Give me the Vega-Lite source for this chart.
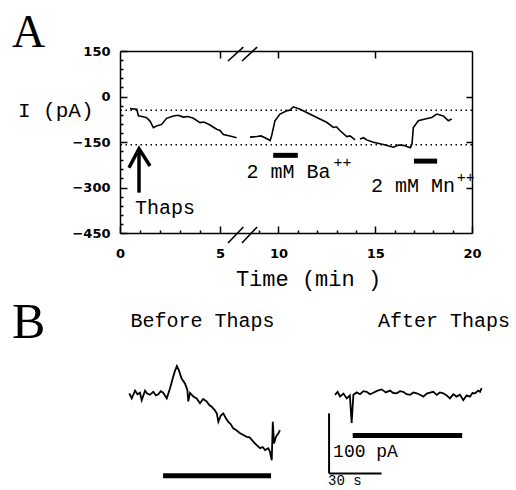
{
  "$schema": "https://vega.github.io/schema/vega-lite/v6.json",
  "background": "white",
  "padding": {"left": 12, "top": 10, "right": 0, "bottom": 0},
  "config": {
    "view": {"stroke": null},
    "axis": {"grid": false, "domainColor": "black", "tickColor": "black", "labelColor": "black", "titleColor": "black", "domainWidth": 1.5, "tickWidth": 1.5, "labelFont": "DejaVu Sans", "labelFontSize": 13, "labelFontWeight": "bold", "titleFont": "Liberation Mono", "titleFontWeight": "normal", "labelOverlap": false, "labelFlush": false, "labelBound": false}
  },
  "datasets": {
    "traceA": [
      {"seg": 1, "t": 0.5, "I": -40}, {"seg": 1, "t": 0.84, "I": -42}, {"seg": 1, "t": 0.92, "I": -64}, {"seg": 1, "t": 1.1, "I": -66}, {"seg": 1, "t": 1.33, "I": -70}, {"seg": 1, "t": 1.5, "I": -81}, {"seg": 1, "t": 1.67, "I": -103}, {"seg": 1, "t": 1.83, "I": -97}, {"seg": 1, "t": 2.08, "I": -92}, {"seg": 1, "t": 2.33, "I": -72}, {"seg": 1, "t": 2.67, "I": -64}, {"seg": 1, "t": 2.9, "I": -62}, {"seg": 1, "t": 3.17, "I": -68}, {"seg": 1, "t": 3.4, "I": -66}, {"seg": 1, "t": 3.67, "I": -72}, {"seg": 1, "t": 4.0, "I": -86}, {"seg": 1, "t": 4.2, "I": -84}, {"seg": 1, "t": 4.5, "I": -94}, {"seg": 1, "t": 4.83, "I": -108}, {"seg": 1, "t": 5.0, "I": -112}, {"seg": 1, "t": 5.17, "I": -125}, {"seg": 1, "t": 5.5, "I": -130}, {"seg": 1, "t": 5.83, "I": -136},
      {"seg": 2, "t": 8.53, "I": -134}, {"seg": 2, "t": 8.88, "I": -132}, {"seg": 2, "t": 9.1, "I": -130}, {"seg": 2, "t": 9.31, "I": -136}, {"seg": 2, "t": 9.57, "I": -145}, {"seg": 2, "t": 9.65, "I": -129}, {"seg": 2, "t": 9.82, "I": -80}, {"seg": 2, "t": 10.08, "I": -58}, {"seg": 2, "t": 10.43, "I": -47}, {"seg": 2, "t": 10.6, "I": -45}, {"seg": 2, "t": 10.77, "I": -34}, {"seg": 2, "t": 11.12, "I": -42}, {"seg": 2, "t": 11.46, "I": -53}, {"seg": 2, "t": 11.98, "I": -69}, {"seg": 2, "t": 12.49, "I": -85}, {"seg": 2, "t": 12.84, "I": -102}, {"seg": 2, "t": 13.0, "I": -100}, {"seg": 2, "t": 13.19, "I": -113}, {"seg": 2, "t": 13.53, "I": -132}, {"seg": 2, "t": 13.7, "I": -130}, {"seg": 2, "t": 13.96, "I": -143},
      {"seg": 3, "t": 14.21, "I": -140}, {"seg": 3, "t": 14.4, "I": -136}, {"seg": 3, "t": 14.56, "I": -143}, {"seg": 3, "t": 14.9, "I": -151}, {"seg": 3, "t": 15.42, "I": -158}, {"seg": 3, "t": 15.94, "I": -167}, {"seg": 3, "t": 16.2, "I": -160}, {"seg": 3, "t": 16.45, "I": -161}, {"seg": 3, "t": 16.82, "I": -169}, {"seg": 3, "t": 16.9, "I": -156}, {"seg": 3, "t": 16.97, "I": -102}, {"seg": 3, "t": 17.23, "I": -80}, {"seg": 3, "t": 17.58, "I": -74}, {"seg": 3, "t": 17.92, "I": -69}, {"seg": 3, "t": 18.18, "I": -58}, {"seg": 3, "t": 18.52, "I": -64}, {"seg": 3, "t": 18.78, "I": -80}, {"seg": 3, "t": 18.95, "I": -74}
    ],
    "hlines": [{"I": -45}, {"I": -159}],
    "barsA": [{"t": 9.73, "t2": 11.0, "I": -194}, {"t": 17.0, "t2": 18.2, "I": -213}],
    "arrow": [
      {"part": "shaft", "k": 1, "t": 0.95, "I": -176}, {"part": "shaft", "k": 2, "t": 0.95, "I": -317},
      {"part": "head", "k": 1, "t": 0.45, "I": -235}, {"part": "head", "k": 2, "t": 0.95, "I": -172}, {"part": "head", "k": 3, "t": 1.5, "I": -229}
    ],
    "breaks": [
      {"t": 5.4, "I": -483, "t2": 6.88, "I2": -430}, {"t": 6.53, "I": -483, "t2": 8.9, "I2": -430},
      {"t": 5.4, "I": 117, "t2": 6.88, "I2": 163}, {"t": 6.53, "I": 117, "t2": 8.9, "I2": 163}
    ],
    "letterA": [{"text": "A", "t": -5.4, "I": 163}],
    "labelsA": [
      {"text": "Thaps", "t": 2.25, "I": -368},
      {"text": "2 mM Ba", "t": 10.52, "I": -250},
      {"text": "2 mM Mn", "t": 16.95, "I": -295}
    ],
    "supsA": [
      {"text": "++", "t": 13.31, "I": -216},
      {"text": "++", "t": 19.68, "I": -267}
    ],
    "before": [
      {"t": 0.3, "I": -0.5}, {"t": 1.7, "I": -9}, {"t": 3.6, "I": 4}, {"t": 5.0, "I": -2}, {"t": 6.4, "I": 0.5}, {"t": 7.4, "I": -12}, {"t": 9.3, "I": 4}, {"t": 10.5, "I": -1}, {"t": 12.1, "I": -3}, {"t": 14, "I": 2}, {"t": 15.5, "I": -4}, {"t": 16.9, "I": -2}, {"t": 18.3, "I": 3}, {"t": 19.7, "I": 0.5}, {"t": 21.7, "I": -9}, {"t": 23.6, "I": 8}, {"t": 25.1, "I": 24}, {"t": 26.3, "I": 36}, {"t": 27.5, "I": 45}, {"t": 28.6, "I": 38}, {"t": 30.2, "I": 24}, {"t": 32.1, "I": 16}, {"t": 33.5, "I": 5}, {"t": 34, "I": -14}, {"t": 35, "I": 0}, {"t": 36.9, "I": -6}, {"t": 38.8, "I": -9}, {"t": 40.7, "I": -17}, {"t": 42.5, "I": -10}, {"t": 44.5, "I": -14}, {"t": 46.0, "I": -20}, {"t": 47.4, "I": -23}, {"t": 49.0, "I": -28}, {"t": 50.3, "I": -34}, {"t": 51.2, "I": -48}, {"t": 52.5, "I": -38}, {"t": 54, "I": -34}, {"t": 55.5, "I": -42}, {"t": 56.9, "I": -48}, {"t": 58.3, "I": -52}, {"t": 59.7, "I": -59}, {"t": 61.5, "I": -62}, {"t": 63.6, "I": -67}, {"t": 65.5, "I": -70}, {"t": 67.4, "I": -73}, {"t": 69.0, "I": -74}, {"t": 70.3, "I": -78}, {"t": 71.8, "I": -83}, {"t": 73.1, "I": -87}, {"t": 75, "I": -92}, {"t": 76.5, "I": -90}, {"t": 77.9, "I": -95}, {"t": 79.7, "I": -92}, {"t": 80.7, "I": -98}, {"t": 81.7, "I": -112}, {"t": 82.3, "I": -48}, {"t": 83, "I": -84}, {"t": 84.1, "I": -73}, {"t": 85.5, "I": -67}, {"t": 86.4, "I": -62}
    ],
    "beforeBar": [{"t": 19.6, "t2": 81.3, "I": -138}],
    "beforeTitle": [{"text": "Before Thaps", "t": 42.1, "I": 120}],
    "letterB": [{"text": "B", "t": -66.7, "I": 91.7}],
    "after": [
      {"t": 0, "I": -3}, {"t": 1.5, "I": 2}, {"t": 2.9, "I": -6}, {"t": 4.8, "I": -1}, {"t": 6.7, "I": -9}, {"t": 8.5, "I": -4}, {"t": 9.5, "I": -50}, {"t": 10.5, "I": -3}, {"t": 12.4, "I": 1}, {"t": 14.3, "I": -2}, {"t": 16.2, "I": 3}, {"t": 18.1, "I": 2}, {"t": 20.0, "I": -2}, {"t": 21.9, "I": 0.5}, {"t": 24.3, "I": 4}, {"t": 26.7, "I": 6}, {"t": 29.0, "I": 1}, {"t": 31.4, "I": 4}, {"t": 33.3, "I": 0}, {"t": 35.3, "I": -0.5}, {"t": 37.1, "I": 3}, {"t": 39, "I": 2}, {"t": 40.9, "I": -2}, {"t": 42.9, "I": -3}, {"t": 44.8, "I": 1}, {"t": 46.7, "I": -0.5}, {"t": 48.6, "I": -3}, {"t": 50.5, "I": -6}, {"t": 52.4, "I": -1}, {"t": 54.3, "I": 0.5}, {"t": 56.2, "I": 2}, {"t": 58.1, "I": -3}, {"t": 60.0, "I": 1}, {"t": 61.9, "I": -0.5}, {"t": 63.8, "I": -4}, {"t": 65.7, "I": -9}, {"t": 67.6, "I": -2}, {"t": 69.5, "I": -6}, {"t": 71.4, "I": -3}, {"t": 73.3, "I": -12}, {"t": 75.2, "I": -4}, {"t": 77.1, "I": -6}, {"t": 78.6, "I": 0}, {"t": 80, "I": -0.5}, {"t": 81.9, "I": 4}, {"t": 82.9, "I": 2}, {"t": 83.8, "I": 8}
    ],
    "afterBar": [{"t": 10.1, "t2": 72.7, "I": -71}],
    "scaleBar": [{"t": -3.4, "I": -34, "t2": -3.4, "I2": -134}, {"t": -3.4, "I": -134, "t2": 26.6, "I2": -134}],
    "afterTitle": [{"text": "After Thaps", "t": 62.3, "I": 120}],
    "scaleText": [{"text": "100 pA", "t": -1.1, "I": -99}],
    "scaleText2": [{"text": "30 s", "t": -4, "I": -158}]
  },
  "spacing": 8,
  "vconcat": [
    {
      "width": 352,
      "height": 182,
      "resolve": {"axis": {"x": "independent", "y": "independent"}},
      "layer": [
        {
          "data": {"name": "traceA"},
          "mark": {"type": "line", "color": "black", "strokeWidth": 1.6, "interpolate": "linear"},
          "encoding": {
            "x": {"field": "t", "type": "quantitative",
              "scale": {"domain": [0, 6, 8.5, 20], "range": [0, 120, 129.4, 352], "nice": false, "zero": false},
              "axis": {"orient": "bottom", "values": [0, 5, 10, 15, 20], "tickSize": -7, "labelPadding": 21, "title": "Time (min )", "titleFontSize": 22, "titleX": 188, "titlePadding": 8}},
            "y": {"field": "I", "type": "quantitative",
              "scale": {"domain": [-450, 150], "nice": false, "zero": false},
              "axis": {"orient": "left", "values": [150, 0, -150, -300, -450], "tickSize": -7, "labelPadding": 17, "title": "I (pA)", "titleAngle": 0, "titleAlign": "right", "titleBaseline": "middle", "titleX": -27, "titleY": 59, "titleFontSize": 21}},
            "detail": {"field": "seg", "type": "nominal"}
          }
        },
        {
          "data": {"name": "hlines"},
          "mark": {"type": "rule", "color": "black", "strokeWidth": 1.5, "strokeDash": [1.5, 3.5]},
          "encoding": {"y": {"field": "I", "type": "quantitative", "axis": null}}
        },
        {
          "data": {"name": "barsA"},
          "mark": {"type": "rule", "color": "black", "strokeWidth": 5},
          "encoding": {
            "x": {"field": "t", "type": "quantitative", "axis": {"orient": "bottom", "values": [1, 2, 3, 4, 9, 11, 12, 13, 14, 16, 17, 18, 19], "tickSize": -3, "labels": false, "domain": false, "title": null}},
            "x2": {"field": "t2"},
            "y": {"field": "I", "type": "quantitative", "axis": {"orient": "left", "values": [120, 90, 60, 30, -30, -60, -90, -120, -180, -210, -240, -270, -330, -360, -390, -420], "tickSize": -3, "labels": false, "domain": false, "title": null}}
          }
        },
        {
          "data": {"name": "arrow"},
          "mark": {"type": "line", "color": "black", "strokeWidth": 3.5},
          "encoding": {
            "x": {"field": "t", "type": "quantitative", "axis": null},
            "y": {"field": "I", "type": "quantitative", "axis": null},
            "detail": {"field": "part", "type": "nominal"},
            "order": {"field": "k", "type": "quantitative"}
          }
        },
        {
          "data": {"name": "breaks"},
          "mark": {"type": "rule", "color": "black", "strokeWidth": 1.6},
          "encoding": {
            "x": {"field": "t", "type": "quantitative", "axis": null},
            "y": {"field": "I", "type": "quantitative", "axis": null},
            "x2": {"field": "t2"},
            "y2": {"field": "I2"}
          }
        },
        {
          "data": {"name": "labelsA"},
          "mark": {"type": "text", "font": "Liberation Mono", "fontSize": 20, "color": "black", "align": "center", "baseline": "middle"},
          "encoding": {
            "x": {"field": "t", "type": "quantitative", "axis": {"orient": "top", "values": [5, 10, 15], "tickSize": -7, "labels": false, "title": null}},
            "y": {"field": "I", "type": "quantitative", "axis": {"orient": "right", "values": [0, -150, -300], "tickSize": -6, "labels": false, "title": null}},
            "text": {"field": "text"}
          }
        },
        {
          "data": {"name": "supsA"},
          "mark": {"type": "text", "font": "Liberation Mono", "fontSize": 15, "color": "black", "align": "center", "baseline": "middle"},
          "encoding": {
            "x": {"field": "t", "type": "quantitative", "axis": null},
            "y": {"field": "I", "type": "quantitative", "axis": null},
            "text": {"field": "text"}
          }
        },
        {
          "data": {"name": "letterA"},
          "mark": {"type": "text", "font": "Liberation Serif", "fontSize": 46, "color": "black", "align": "left", "baseline": "alphabetic"},
          "encoding": {
            "x": {"field": "t", "type": "quantitative", "axis": null},
            "y": {"field": "I", "type": "quantitative", "axis": null},
            "text": {"field": "text"}
          }
        }
      ]
    },
    {
      "width": 380,
      "height": 189,
      "resolve": {"scale": {"x": "independent"}},
      "layer": [
        {
          "encoding": {
            "x": {"field": "t", "type": "quantitative", "scale": {"domain": [-5, 212.1], "nice": false, "zero": false}, "axis": null},
            "y": {"field": "I", "type": "quantitative", "scale": {"domain": [-160, 155], "nice": false, "zero": false}, "axis": null}
          },
          "layer": [
            {"data": {"name": "before"}, "mark": {"type": "line", "color": "black", "strokeWidth": 1.8}},
            {"data": {"name": "beforeBar"}, "mark": {"type": "rule", "color": "black", "strokeWidth": 5}, "encoding": {"x2": {"field": "t2"}}},
            {"data": {"name": "beforeTitle"}, "mark": {"type": "text", "font": "Liberation Mono", "fontSize": 20, "color": "black", "align": "center", "baseline": "middle"}, "encoding": {"text": {"field": "text"}}},
            {"data": {"name": "letterB"}, "mark": {"type": "text", "font": "Liberation Serif", "fontSize": 50, "color": "black", "align": "left", "baseline": "alphabetic"}, "encoding": {"text": {"field": "text"}}}
          ]
        },
        {
          "encoding": {
            "x": {"field": "t", "type": "quantitative", "scale": {"domain": [-122.9, 94.3], "nice": false, "zero": false}, "axis": null},
            "y": {"field": "I", "type": "quantitative", "axis": null}
          },
          "layer": [
            {"data": {"name": "after"}, "mark": {"type": "line", "color": "black", "strokeWidth": 1.8}},
            {"data": {"name": "afterBar"}, "mark": {"type": "rule", "color": "black", "strokeWidth": 5}, "encoding": {"x2": {"field": "t2"}}},
            {"data": {"name": "scaleBar"}, "mark": {"type": "rule", "color": "black", "strokeWidth": 2}, "encoding": {"x2": {"field": "t2"}, "y2": {"field": "I2"}}},
            {"data": {"name": "afterTitle"}, "mark": {"type": "text", "font": "Liberation Mono", "fontSize": 20, "color": "black", "align": "center", "baseline": "middle"}, "encoding": {"text": {"field": "text"}}},
            {"data": {"name": "scaleText"}, "mark": {"type": "text", "font": "Liberation Mono", "fontSize": 18, "color": "black", "align": "left", "baseline": "middle"}, "encoding": {"text": {"field": "text"}}},
            {"data": {"name": "scaleText2"}, "mark": {"type": "text", "font": "Liberation Mono", "fontSize": 14, "color": "black", "align": "left", "baseline": "bottom"}, "encoding": {"text": {"field": "text"}}}
          ]
        }
      ]
    }
  ]
}
